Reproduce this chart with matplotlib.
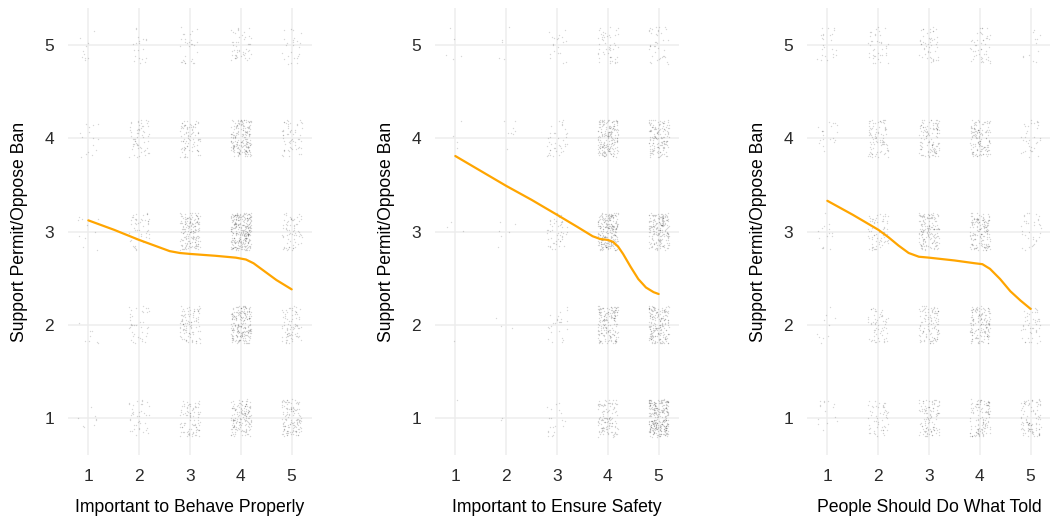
#!/usr/bin/env python3
"""Jittered survey responses with a smoothed trend, one panel per item."""

import matplotlib

matplotlib.use("Agg")
import matplotlib.pyplot as plt
import numpy as np

plt.rcParams["font.family"] = ["Liberation Sans", "DejaVu Sans"]

LEVELS = [1, 2, 3, 4, 5]
X_LABELS = ["Important to Behave Properly", "Important to Ensure Safety", "People Should Do What Told"]
Y_LABEL = "Support Permit/Oppose Ban"

# respondents per cell, rows = y level 1..5, cols = x level 1..5
counts_behave = [
    [8, 40, 90, 160, 130],
    [8, 40, 100, 220, 80],
    [10, 50, 170, 300, 70],
    [15, 60, 90, 200, 60],
    [10, 20, 30, 50, 25],
]
counts_safety = [
    [1, 2, 20, 120, 300],
    [1, 3, 25, 180, 200],
    [3, 6, 50, 250, 200],
    [4, 8, 40, 200, 150],
    [5, 5, 20, 50, 40],
]
counts_told = [
    [15, 55, 110, 130, 100],
    [10, 60, 110, 150, 50],
    [15, 70, 160, 160, 35],
    [20, 90, 120, 140, 35],
    [25, 40, 50, 50, 12],
]

# smoothed fit, sampled along x
smooth_x_behave = [1, 1.5, 2, 2.3, 2.6, 2.8, 3, 3.5, 3.9, 4.1, 4.25, 4.45, 4.7, 5]
smooth_y_behave = [3.12, 3.02, 2.91, 2.85, 2.79, 2.77, 2.76, 2.74, 2.72, 2.70, 2.66, 2.58, 2.48, 2.38]
smooth_x_safety = [1, 1.5, 2, 2.5, 3, 3.4, 3.7, 3.85, 4, 4.1, 4.2, 4.3, 4.45, 4.6, 4.75, 4.9, 5]
smooth_y_safety = [3.81, 3.65, 3.49, 3.34, 3.18, 3.05, 2.95, 2.92, 2.91, 2.89, 2.84, 2.76,
                   2.62, 2.49, 2.40, 2.35, 2.33]
smooth_x_told = [1, 1.5, 2, 2.2, 2.4, 2.6, 2.8, 3, 3.5, 3.9, 4.05, 4.2, 4.4, 4.6, 4.8, 5]
smooth_y_told = [3.33, 3.18, 3.02, 2.94, 2.85, 2.77, 2.73, 2.72, 2.69, 2.66, 2.65, 2.60,
                 2.49, 2.36, 2.26, 2.17]

panels = [
    (counts_behave, smooth_x_behave, smooth_y_behave),
    (counts_safety, smooth_x_safety, smooth_y_safety),
    (counts_told, smooth_x_told, smooth_y_told),
]

fig = plt.figure(figsize=(10.5, 5.18), dpi=100)
lefts = [68 / 1050, 435 / 1050, 807 / 1050]
rng = np.random.default_rng(7)  # jitter only

for left, xlabel, (counts, sx, sy) in zip(lefts, X_LABELS, panels):
    ax = fig.add_axes([left, 0.121, 244 / 1050, 0.864])
    xs, ys = [], []
    for yi, row in zip(LEVELS, counts):
        for xi, n in zip(LEVELS, row):
            xs.append(xi + rng.uniform(-0.2, 0.2, n))
            ys.append(yi + rng.uniform(-0.2, 0.2, n))
    ax.scatter(np.concatenate(xs), np.concatenate(ys), s=1.0, color="black",
               alpha=0.16, linewidths=0, zorder=2)
    ax.plot(sx, sy, color="#FFA500", linewidth=1.6, zorder=3,
            solid_joinstyle="round", solid_capstyle="round")

    ax.set_xlim(0.6, 5.4)
    ax.set_ylim(0.6, 5.4)
    ax.set_xticks(LEVELS)
    ax.set_yticks(LEVELS)
    ax.grid(color="#EDEDED", linewidth=1.1, zorder=0)
    ax.set_axisbelow(True)
    for spine in ax.spines.values():
        spine.set_visible(False)
    ax.tick_params(length=0, labelsize=12.5, labelcolor="#2B2B2B", pad=10)
    ax.set_xlabel(xlabel, fontsize=12.7, labelpad=11)
    ax.set_ylabel(Y_LABEL, fontsize=12.7, labelpad=12)

fig.savefig("out.png", dpi=100)
